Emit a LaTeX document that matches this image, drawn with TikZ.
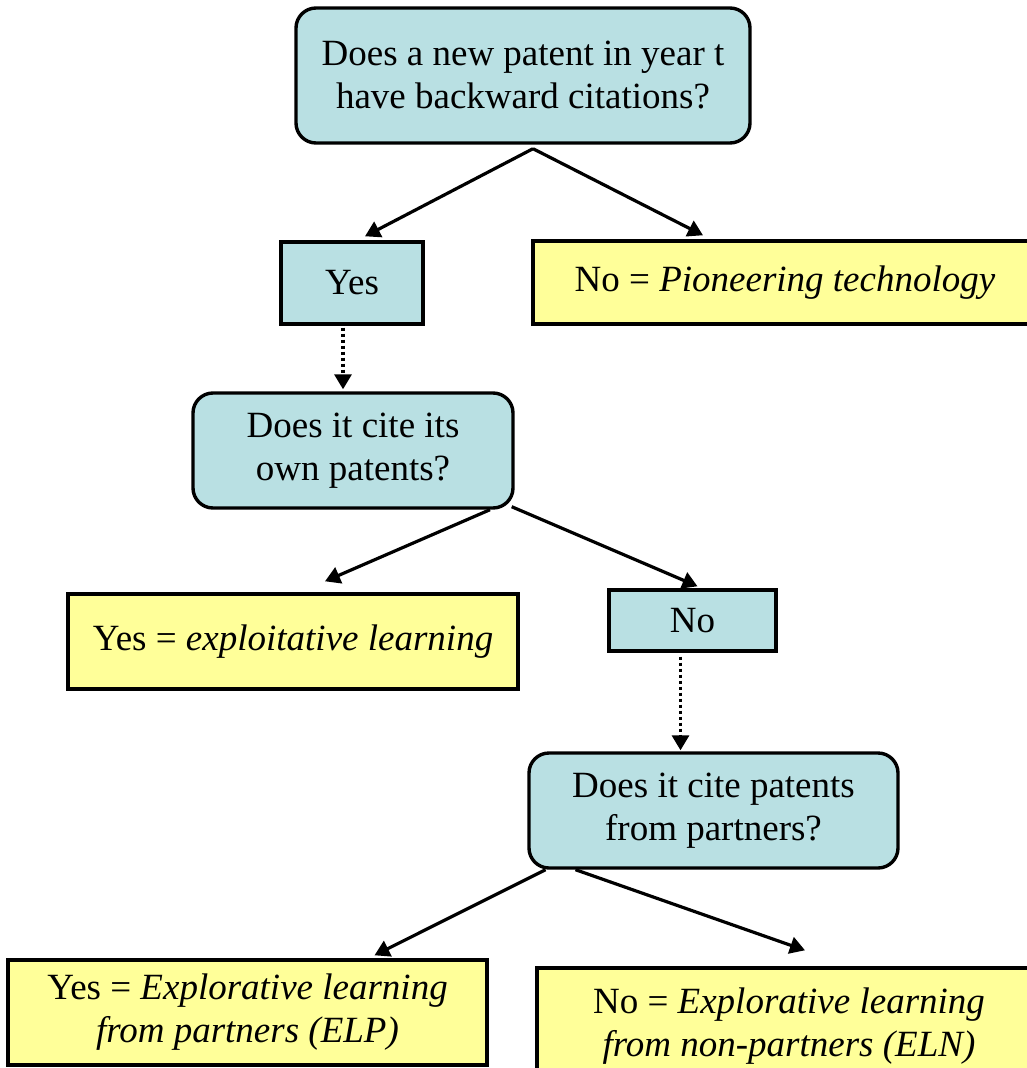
\documentclass[tikz,border=0pt]{standalone}
\usepackage{fontspec}
\setmainfont{Liberation Serif}
\usetikzlibrary{arrows.meta}
\definecolor{qblue}{HTML}{B9E0E3}
\definecolor{ayellow}{HTML}{FFFF99}
\begin{document}
\begin{tikzpicture}[x=1pt,y=-1pt,
  box/.style={draw=black,line width=3.4pt,inner sep=0pt,align=center,
    font=\fontsize{37}{43}\selectfont},
  qbox/.style={box,fill=qblue,rounded corners=20pt},
  sbox/.style={box,fill=qblue},
  abox/.style={box,fill=ayellow},
  arr/.style={line width=3.2pt,-{Triangle[length=15pt,width=17pt]}},
  darr/.style={arr,dash pattern=on 3pt off 3pt}]
\useasboundingbox (0,0) rectangle (1026,1068);
\node[qbox,minimum width=454pt,minimum height=135pt] (q1) at (523,75.5)
  {Does a new patent in year t\\have backward citations?};
\node[sbox,minimum width=142pt,minimum height=82pt] (yes) at (352,283) {Yes};
\node[abox,minimum width=504pt,minimum height=83pt] (pio) at (785,282.5)
  {No = \textit{Pioneering technology}};
\node[qbox,minimum width=320pt,minimum height=115pt] (q2) at (353,450.5)
  {Does it cite its\\own patents?};
\node[abox,minimum width=450pt,minimum height=95pt] (ex) at (293,641.5)
  {Yes = \textit{exploitative learning}};
\node[sbox,minimum width=167pt,minimum height=61pt] (no) at (692.5,620.5) {No};
\node[qbox,minimum width=369pt,minimum height=115pt] (q3) at (713.5,810.5)
  {Does it cite patents\\from partners?};
\node[abox,minimum width=479pt,minimum height=105pt] (elp) at (247.5,1012.5)
  {Yes = \textit{Explorative learning}\\\textit{from partners (ELP)}};
\node[abox,minimum width=504pt,minimum height=116pt] (eln) at (789,1026)
  {No = \textit{Explorative learning}\\\textit{from non-partners (ELN)}};
\draw[arr] ([xshift=10pt,yshift=-4pt]q1.south) -- ([xshift=13pt,yshift=4pt]yes.north);
\draw[arr] ([xshift=10pt,yshift=-4pt]q1.south) -- ([xshift=-82pt,yshift=4pt]pio.north);
\draw[darr] ([xshift=-9pt,yshift=-2pt]yes.south) -- ([xshift=-10pt,yshift=2pt]q2.north);
\draw[arr] ([xshift=137pt]q2.south) -- ([xshift=32pt,yshift=11pt]ex.north);
\draw[arr] ([xshift=-3pt,yshift=3pt]q2.south east) -- ([xshift=5pt,yshift=2pt]no.north);
\draw[darr] ([xshift=-12pt,yshift=-4pt]no.south) -- ([xshift=-33pt,yshift=1pt]q3.north);
\draw[arr] ([xshift=-168pt]q3.south) -- ([xshift=127pt,yshift=3pt]elp.north);
\draw[arr] ([xshift=-138pt]q3.south) -- ([xshift=16pt,yshift=16pt]eln.north);
\end{tikzpicture}
\end{document}
